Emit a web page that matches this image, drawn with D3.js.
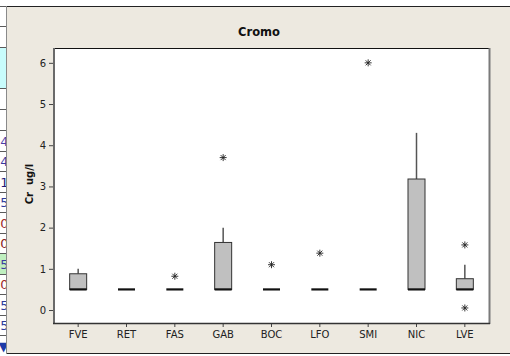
<!DOCTYPE html>
<html>
<head>
<meta charset="utf-8">
<script src="https://cdn.jsdelivr.net/npm/d3@7"></script>
<style>
  html, body { margin: 0; padding: 0; background: #ffffff; }
  svg { display: block; }
  text { font-family: "DejaVu Sans", sans-serif; }
</style>
</head>
<body>
<svg id="chart" width="510" height="356"></svg>
<script>
// Chromium concentration by site (Cr, ug/l) — box plot summaries
const categories = ["FVE", "RET", "FAS", "GAB", "BOC", "LFO", "SMI", "NIC", "LVE"];
const q1Values     = [0.5, 0.5, 0.5, 0.5, 0.5, 0.5, 0.5, 0.5, 0.5];
const medianValues = [0.5, 0.5, 0.5, 0.5, 0.5, 0.5, 0.5, 0.5, 0.5];
const q3Values     = [0.88, 0.5, 0.5, 1.64, 0.5, 0.5, 0.5, 3.18, 0.76];
const whiskerLow   = [0.5, 0.5, 0.5, 0.5, 0.5, 0.5, 0.5, 0.5, 0.5];
const whiskerHigh  = [1.0, 0.5, 0.5, 2.0, 0.5, 0.5, 0.5, 4.3, 1.1];
const outlierSites  = ["FAS", "GAB", "BOC", "LFO", "SMI", "LVE", "LVE"];
const outlierValues = [0.82, 3.7, 1.1, 1.38, 6.0, 1.58, 0.05];
const yTicks = [0, 1, 2, 3, 4, 5, 6];
const chartTitle = "Cromo";
const yTitle = "Cr  ug/l";

// worksheet strip glimpsed at the left edge
const stripRows = [6, 26, 47, 88, 109, 130, 151, 171, 192, 212, 233, 253, 274, 294, 315, 335, 356];
const stripGlyphs = ["", "", "", "", "", "4", "4", "1", "5", "0", "0", "5", "0", "5", "5", "\u25BC"];
const stripColors = ["", "", "", "", "", "#4b3fa8", "#3a3aa0", "#1c1c7a", "#2a3a9a", "#a02828", "#8a2020", "#3a3aa0", "#a02828", "#2a3a9a", "#2a3a9a", "#1c3aa8"];
const stripFills = ["#ffffff", "#ffffff", "#c8fcfc", "#ffffff", "#ffffff", "#ffffff", "#ffffff", "#ffffff", "#ffffff", "#ffffff", "#ffffff", "#bfefbf", "#ffffff", "#ffffff", "#ffffff", "#ffffff"];

const svg = d3.select("#chart");
const plot = { left: 54, right: 489, top: 48, bottom: 323 };

// ---- left worksheet strip ----
svg.append("clipPath").attr("id", "strip")
  .append("rect").attr("x", 0).attr("y", 0).attr("width", 6).attr("height", 356);
const strip = svg.append("g").attr("clip-path", "url(#strip)");
stripFills.forEach((f, i) => {
  strip.append("rect")
    .attr("x", 0).attr("y", stripRows[i])
    .attr("width", 8).attr("height", stripRows[i + 1] - stripRows[i])
    .attr("fill", f);
});
stripRows.forEach(y => {
  strip.append("line").attr("x1", 0).attr("x2", 8)
    .attr("y1", y + 0.5).attr("y2", y + 0.5)
    .attr("stroke", "#5a5a5a").attr("stroke-width", 1);
});
stripGlyphs.forEach((g, i) => {
  if (!g) return;
  strip.append("text")
    .attr("x", 8.5).attr("y", (stripRows[i] + stripRows[i + 1]) / 2 + 5)
    .attr("text-anchor", "end")
    .attr("font-size", 13)
    .attr("fill", stripColors[i])
    .text(g);
});

// ---- graph panel ----
svg.append("rect")
  .attr("x", 6.5).attr("y", 6.5).attr("width", 504).attr("height", 346.5)
  .attr("fill", "#ede9e0").attr("stroke", "none");
svg.append("line").attr("x1", 6).attr("x2", 510).attr("y1", 6.5).attr("y2", 6.5)
  .attr("stroke", "#222").attr("stroke-width", 1);
svg.append("line").attr("x1", 6).attr("x2", 510).attr("y1", 353.5).attr("y2", 353.5)
  .attr("stroke", "#222").attr("stroke-width", 1);
svg.append("line").attr("x1", 6.5).attr("x2", 6.5).attr("y1", 6).attr("y2", 354)
  .attr("stroke", "#8a8a8a").attr("stroke-width", 1);

// data region
svg.append("rect")
  .attr("x", plot.left).attr("y", plot.top)
  .attr("width", plot.right - plot.left).attr("height", plot.bottom - plot.top)
  .attr("fill", "#ffffff");

// ---- scales ----
const x = d3.scaleBand().domain(categories).range([plot.left, plot.right]).padding(0);
const y = d3.scaleLinear().domain([-0.315, 6.36]).range([plot.bottom, plot.top]);
const cx = c => x(c) + x.bandwidth() / 2;
const boxW = 17;

// frame of the data region
svg.append("line").attr("x1", plot.left).attr("x2", plot.right + 1)
  .attr("y1", plot.top + 0.5).attr("y2", plot.top + 0.5)
  .attr("stroke", "#111").attr("stroke-width", 1);
svg.append("line").attr("x1", plot.right + 0.5).attr("x2", plot.right + 0.5)
  .attr("y1", plot.top).attr("y2", plot.bottom + 1)
  .attr("stroke", "#7a7a7a").attr("stroke-width", 2);

// ---- axes ----
const yAxis = d3.axisLeft(y).tickValues(yTicks).tickSize(5).tickPadding(3).tickFormat(d3.format("d"));
const gy = svg.append("g").attr("transform", `translate(${plot.left},0)`).call(yAxis);
gy.select(".domain").remove();
gy.append("line").attr("x1", 0).attr("x2", 0).attr("y1", plot.top).attr("y2", plot.bottom + 1)
  .attr("stroke", "#6a6a6a").attr("stroke-width", 2);
gy.selectAll(".tick line").attr("stroke", "#444");
gy.selectAll(".tick text").attr("font-size", 10).attr("fill", "#222")
  .style("font-family", "DejaVu Sans, sans-serif");

const xAxis = d3.axisBottom(x).tickSize(4).tickPadding(4);
const gx = svg.append("g").attr("transform", `translate(0,${plot.bottom})`).call(xAxis);
gx.select(".domain").remove();
gx.append("line").attr("x1", plot.left - 1).attr("x2", plot.right + 1).attr("y1", 0.5).attr("y2", 0.5)
  .attr("stroke", "#333").attr("stroke-width", 1.5);
gx.selectAll(".tick line").attr("stroke", "#444");
gx.selectAll(".tick text").attr("font-size", 10).attr("fill", "#222")
  .style("font-family", "DejaVu Sans, sans-serif");

// ---- titles ----
svg.append("text")
  .attr("x", 259).attr("y", 36)
  .attr("text-anchor", "middle")
  .attr("font-size", 11.5).attr("font-weight", "bold").attr("fill", "#111")
  .text(chartTitle);
svg.append("text")
  .attr("transform", "translate(33,184) rotate(-90)")
  .attr("text-anchor", "middle")
  .attr("font-size", 10).attr("font-weight", "bold").attr("fill", "#111")
  .attr("xml:space", "preserve")
  .style("white-space", "pre")
  .text(yTitle);

// ---- boxes ----
const boxes = svg.append("g");
categories.forEach((c, i) => {
  const xc = cx(c);
  // upper whisker
  if (whiskerHigh[i] > q3Values[i]) {
    boxes.append("line")
      .attr("x1", xc).attr("x2", xc)
      .attr("y1", y(q3Values[i])).attr("y2", y(whiskerHigh[i]))
      .attr("stroke", "#555").attr("stroke-width", 1.5);
  }
  // lower whisker
  if (whiskerLow[i] < q1Values[i]) {
    boxes.append("line")
      .attr("x1", xc).attr("x2", xc)
      .attr("y1", y(q1Values[i])).attr("y2", y(whiskerLow[i]))
      .attr("stroke", "#555").attr("stroke-width", 1.5);
  }
  // interquartile box
  if (q3Values[i] > q1Values[i]) {
    boxes.append("rect")
      .attr("x", xc - boxW / 2).attr("y", y(q3Values[i]))
      .attr("width", boxW).attr("height", y(q1Values[i]) - y(q3Values[i]))
      .attr("fill", "#c0c0c0").attr("stroke", "#333").attr("stroke-width", 1);
  }
  // median
  boxes.append("line")
    .attr("x1", xc - boxW / 2).attr("x2", xc + boxW / 2)
    .attr("y1", y(medianValues[i])).attr("y2", y(medianValues[i]))
    .attr("stroke", "#111").attr("stroke-width", 2.2);
});

// ---- outliers (asterisks) ----
const star = (s) => {
  const p = d3.path();
  const d = s * 0.72;
  p.moveTo(-s, 0); p.lineTo(s, 0);
  p.moveTo(0, -s); p.lineTo(0, s);
  p.moveTo(-d, -d); p.lineTo(d, d);
  p.moveTo(-d, d); p.lineTo(d, -d);
  return p.toString();
};
svg.append("g").selectAll("path")
  .data(outlierSites.map((c, i) => ({ c, v: outlierValues[i] })))
  .join("path")
  .attr("transform", d => `translate(${cx(d.c)},${y(d.v)})`)
  .attr("d", star(3.5))
  .attr("fill", "none").attr("stroke", "#222").attr("stroke-width", 0.9);
</script>
</body>
</html>
